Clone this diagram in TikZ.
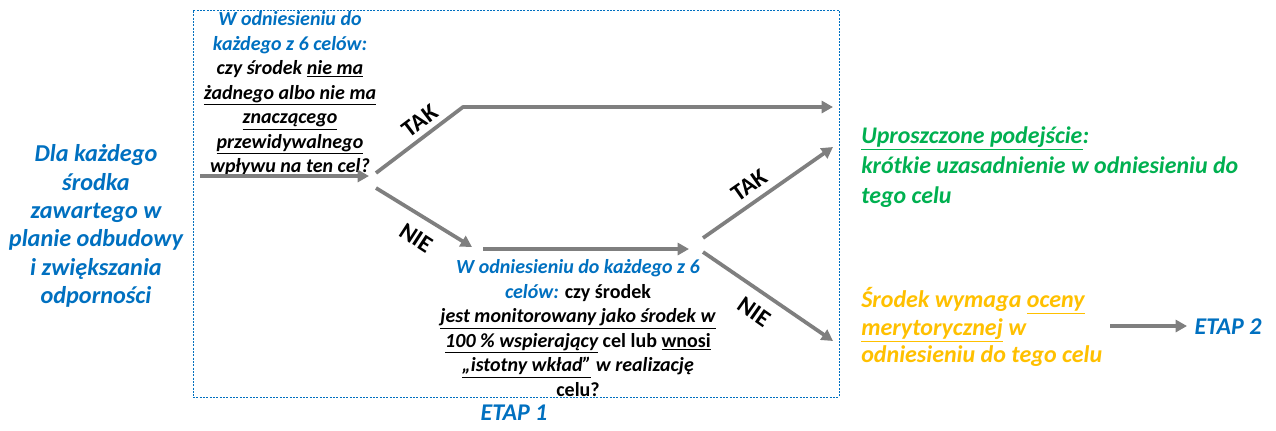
\documentclass[tikz,border=0pt]{standalone}
\usepackage{fontspec}
\setmainfont{Carlito}
\usetikzlibrary{arrows.meta}
\definecolor{cblue}{HTML}{0070C0}
\definecolor{cgreen}{HTML}{00B050}
\definecolor{corange}{HTML}{FFC000}
\definecolor{cgray}{HTML}{7F7F7F}
\begin{document}
\begin{tikzpicture}[x=0.75pt,y=-0.75pt,
  arr/.style={draw=cgray, line width=2.8pt, line join=round, -{Triangle[length=8.5pt,width=9pt]}},
  lbl/.style={font=\bfseries\fontsize{18}{20}\selectfont, inner sep=0pt},
  txt/.style={inner sep=0pt, align=center, font=\bfseries\itshape\fontsize{15}{18.4}\selectfont},
  frame/.style={draw=cblue, dash pattern=on 1.5pt off 1pt, line width=0.6pt, inner sep=0pt}]
\useasboundingbox (0,0) rectangle (1276,430);
\node[frame, minimum width=484.5pt, minimum height=290.25pt] (stage) at (516,203.5) {};
\node[txt, text=cblue, font=\bfseries\itshape\fontsize{18.2}{21.3}\selectfont] (dla) at (96,226)
  {Dla każdego\\ środka\\ zawartego w\\ planie odbudowy\\ i zwiększania\\ odporności};
\node[txt] (q1) at (290,95)
  {\textcolor{cblue}{W odniesieniu do}\\ \textcolor{cblue}{każdego z 6 celów:}\\ czy środek \underline{nie ma}\\ \underline{żadnego albo nie ma}\\ \underline{znaczącego}\\ \underline{przewidywalnego}\\ \underline{wpływu} na ten cel?};
\node[txt] (q2) at (578,328)
  {\textcolor{cblue}{W odniesieniu do każdego z 6}\\ \textcolor{cblue}{celów:} \textup{czy środek}\\ \underline{jest monitorowany jako środek w}\\ \underline{100 \% wspierający} \textup{cel lub \underline{wnosi}}\\ \underline{„istotny wkład”} w realizację\\ \textup{celu?}};
\node[txt, anchor=west, align=left, text=cgreen, font=\bfseries\itshape\fontsize{17.9}{22.5}\selectfont] (green) at (861,167)
  {\underline{Uproszczone podejście}:\\ krótkie uzasadnienie w odniesieniu do\\ tego celu};
\node[txt, anchor=west, align=left, text=corange, font=\bfseries\itshape\fontsize{18}{20.6}\selectfont] (orange) at (861,327)
  {Środek wymaga \underline{oceny}\\ \underline{merytorycznej} w\\ odniesieniu do tego celu};
\node[txt, text=cblue, font=\bfseries\itshape\fontsize{18}{20}\selectfont] (etap1) at (514,413) {ETAP 1};
\node[txt, text=cblue, font=\bfseries\itshape\fontsize{18}{20}\selectfont] (etap2) at (1228,327) {ETAP 2};
% connectors
\coordinate (inS) at (200,176);
\coordinate (inE) at (369,176);
\coordinate (d1a) at (376,173);
\coordinate (bend) at (463,107);
\coordinate (t1e) at (833,107);
\coordinate (d1b) at (376,188);
\coordinate (n1e) at (472,247);
\coordinate (mS) at (483,249);
\coordinate (mE) at (689,249);
\coordinate (d2a) at (703,238);
\coordinate (t2e) at (833,147);
\coordinate (d2b) at (703,252);
\coordinate (n2e) at (833,341);
\coordinate (e2S) at (1110,326);
\coordinate (e2E) at (1187,326);
\draw[arr] (inS) -- (inE);
\draw[arr] (d1a) -- (bend) -- (t1e);
\draw[arr] (d1b) -- (n1e);
\draw[arr] (mS) -- (mE);
\draw[arr] (d2a) -- (t2e);
\draw[arr] (d2b) -- (n2e);
\draw[arr] (e2S) -- (e2E);
\node[lbl, rotate=37] (tak1) at (420,121) {TAK};
\node[lbl, rotate=-33] (nie1) at (416,238) {NIE};
\node[lbl, rotate=35] (tak2) at (749,185) {TAK};
\node[lbl, rotate=-35] (nie2) at (754,312) {NIE};
\end{tikzpicture}
\end{document}
